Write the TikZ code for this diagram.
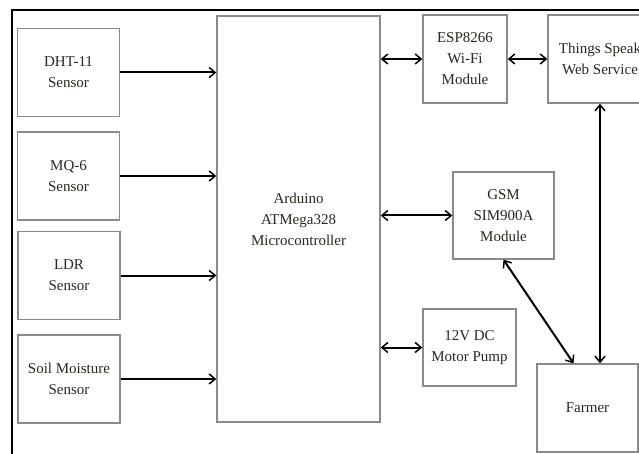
\documentclass[tikz,border=0pt]{standalone}
\usepackage{fontspec}
\setmainfont{Liberation Serif}
\usepackage{tikz}
\usetikzlibrary{positioning,arrows.meta,calc}
\usepackage{xcolor}
\definecolor{boxgray}{HTML}{8A8A8A}
\definecolor{inkdark}{HTML}{2B2620}

\begin{document}
\begin{tikzpicture}[
    x=1pt, y=-1pt,
    blockBox/.style={rectangle, draw=boxgray, line width=1.4pt, fill=white, text=inkdark, align=center, inner sep=2pt, font=\fontsize{15}{21}\selectfont},
    sensorBox/.style={blockBox, minimum width=102pt, minimum height=88pt},
    arrowStyle/.style={-{Straight Barb[length=6pt,width=10pt,line width=1.5pt]}, line width=2pt, draw=black},
    biArrow/.style={{Straight Barb[length=6pt,width=10pt,line width=1.5pt]}-{Straight Barb[length=6pt,width=10pt,line width=1.5pt]}, line width=2pt, draw=black}
]
    \useasboundingbox (0,0) rectangle (639,454);

    % outer frame of the figure
    \draw[line width=2pt, black] (12,456) -- (12,10) -- (642,10);

    % sensors
    \node[sensorBox] (dht)  at (68.5, 72.5) {DHT-11\\Sensor};
    \node[sensorBox] (mq)   at (68.5, 176)  {MQ-6\\Sensor};
    \node[sensorBox] (ldr)  at (69, 275.5)  {LDR\\Sensor};
    \node[sensorBox] (soil) at (69, 379)    {Soil Moisture\\Sensor};

    % controller
    \node[blockBox, minimum width=163pt, minimum height=406pt] (ard) at (298.5, 219)
        {Arduino\\ATMega328\\Microcontroller};

    % modules
    \node[blockBox, minimum width=84pt, minimum height=88pt] (esp) at (465, 59) {ESP8266\\Wi-Fi\\Module};
    \node[blockBox, minimum width=104pt, minimum height=88pt] (things) at (600, 59) {Things Speak\\Web Service};
    \node[blockBox, minimum width=101pt, minimum height=87pt] (gsm) at (503.5, 215.5) {GSM\\SIM900A\\Module};
    \node[blockBox, minimum width=93pt, minimum height=77pt] (pump) at (469.5, 347.5) {12V DC\\Motor Pump};
    \node[blockBox, minimum width=101pt, minimum height=88pt] (farmer) at (587.5, 408) {Farmer};

    % sensor inputs
    \foreach \s in {dht, mq, ldr, soil}
        \draw[arrowStyle] (\s.east) -- (\s.east -| ard.west);

    % links
    \draw[biArrow] (ard.east |- esp.west) -- (esp.west);
    \draw[biArrow] (esp.east) -- (things.west);
    \draw[biArrow] (ard.east |- gsm.west) -- (gsm.west);
    \draw[biArrow] (ard.east |- pump.west) -- (pump.west);
    \draw[biArrow] (gsm.south) -- ($(farmer.north)+(-14,0)$);
    \draw[biArrow] (things.south) -- (things.south |- farmer.north);
\end{tikzpicture}
\end{document}
